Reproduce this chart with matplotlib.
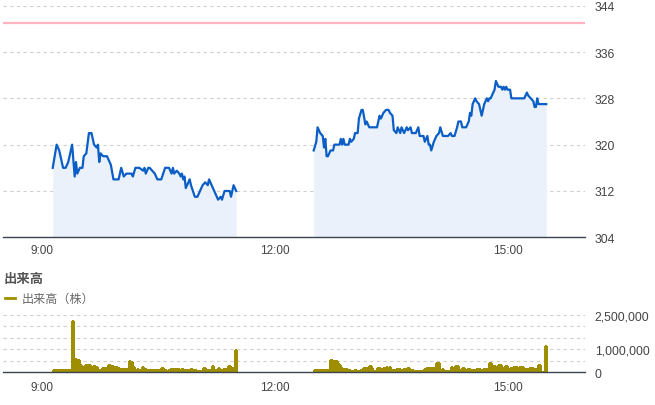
import matplotlib
matplotlib.use("Agg")
import matplotlib.pyplot as plt
from matplotlib.lines import Line2D

# ---------------- data ----------------
# minutes after 9:00
am_times = [8, 11, 13, 15, 16, 18, 20, 23, 25, 26, 27, 29, 31, 32, 34, 36, 37, 38, 40, 42,
            43, 44, 45, 47, 50, 52, 53, 55, 59, 61, 63, 65, 69, 70, 72, 75, 78, 79, 80, 82,
            83, 85, 87, 89, 92, 95, 98, 100, 101, 102, 104, 106, 107, 108, 109, 110, 111, 113, 114, 115,
            118, 120, 122, 124, 126, 128, 129, 131, 133, 134, 136, 138, 139, 141, 145, 146, 148, 150]
am_prices = [316, 320, 319, 317, 316, 316, 317, 320, 314.5, 317, 315, 316, 316, 318, 318.5, 322, 322, 322, 320, 319.5,
             320, 317, 318.5, 318, 318, 317, 316.5, 314, 314, 316, 314.5, 315, 315, 314.5, 316, 316, 315.5, 316, 315, 316,
             316, 315.5, 315, 314, 314, 316, 316, 315, 316, 315, 315.5, 315, 314.5, 315, 314, 314.5, 312.5, 313.5, 314, 313,
             311, 311, 312, 313, 313.5, 313, 314, 313, 312, 311.5, 310.5, 311, 310.5, 312, 312, 311, 313, 312]

pm_times = [210, 212, 213, 215, 217, 218, 219, 220, 221, 223, 225, 226, 230, 231, 232, 233, 234, 237, 238, 239,
            241, 242, 244, 245, 247, 248, 250, 251, 253, 255, 259, 261, 262, 264, 266, 268, 269, 271, 272, 274,
            275, 277, 278, 280, 282, 283, 285, 286, 289, 291, 292, 295, 296, 298, 299, 300, 301, 303, 305, 307,
            308, 310, 314, 316, 317, 319, 321, 322, 324, 325, 328, 330, 331, 332, 333, 335, 336, 338, 339, 340,
            342, 344, 345, 346, 347, 350, 351, 353, 354, 355, 356, 357, 358, 359, 360, 362, 363, 373, 375, 376,
            378, 380, 381, 382, 383, 384, 390]
pm_prices = [319, 320.5, 323, 322, 321.5, 319.5, 321, 318, 318, 319, 319, 320, 320, 321, 320, 321, 320, 320, 321, 320.5,
             321, 322, 322, 324.5, 326, 326, 323.5, 324, 323, 323, 323, 325, 324.5, 325.5, 326, 326, 325.5, 325, 322.5, 322,
             323, 322, 323, 322, 323, 322.5, 323, 322, 322, 323, 321.5, 321.5, 320.5, 321.5, 320, 320, 319, 320.5, 321.5, 322,
             323, 321.5, 321.5, 322, 321.5, 321.5, 323, 324, 324, 323, 323, 324, 325.5, 325, 327, 328, 327.5, 327, 326, 325,
             327, 328, 327.5, 328, 328, 329.5, 331, 330, 330, 330, 329.5, 330, 329.5, 330, 329.5, 329.5, 328, 328, 329, 328.5,
             328, 327.5, 326.5, 326.5, 328, 327, 327]

ref_price = 341

# volume (thousand shares), first bar is the opening block
am_open_start, am_open_end, am_open_vol = 8, 23, 116
am_vol = [2230, 580, 580, 550, 550, 380, 160, 260, 200, 130,
          330, 330, 330, 330, 190, 130, 260, 260, 230, 130,
          90, 90, 90, 170, 90, 200, 200, 230, 300, 230,
          260, 260, 160, 230, 230, 200, 130, 160, 130, 130,
          160, 120, 160, 160, 490, 460, 230, 230, 120, 90,
          130, 90, 90, 160, 230, 160, 160, 90, 120, 120,
          120, 100, 90, 120, 100, 90, 120, 100, 90, 200,
          90, 90, 90, 60, 90, 90, 130, 130, 130, 130,
          130, 130, 130, 100, 130, 130, 90, 90, 90, 60,
          90, 160, 160, 90, 90, 90, 60, 60, 60, 60,
          60, 170, 170, 90, 90, 90, 90, 90, 290, 90,
          90, 90, 60, 200, 90, 90, 90, 130, 130, 130,
          90, 290, 130, 90, 190, 90, 980]
pm_open_start, pm_open_end, pm_open_vol = 210, 223, 116
pm_vol = [550, 360, 360, 490, 490, 400, 320, 170, 170, 116,
          145, 145, 145, 116, 116, 72, 72, 72, 116, 116,
          72, 72, 72, 116, 116, 174, 174, 174, 72, 72,
          261, 180, 100, 72, 72, 72, 174, 174, 145, 145,
          145, 174, 174, 217, 150, 217, 101, 101, 101, 72,
          72, 145, 145, 145, 116, 116, 145, 145, 145, 188,
          188, 116, 116, 116, 58, 58, 58, 43, 43, 58,
          58, 58, 145, 145, 174, 174, 174, 174, 174, 174,
          116, 116, 406, 406, 116, 116, 145, 72, 72, 72,
          72, 72, 72, 217, 72, 72, 261, 150, 261, 116,
          116, 116, 174, 116, 116, 116, 145, 145, 116, 116,
          116, 116, 116, 145, 145, 145, 116, 116, 145, 145,
          145, 101, 101, 391, 300, 290, 290, 145, 145, 145,
          319, 319, 174, 174, 174, 261, 261, 116, 116, 174,
          174, 217, 217, 217, 174, 174, 217, 217, 217, 145,
          145, 145, 116, 116, 174, 174, 174, 145, 145, 120,
          200, 333, 0, 0, 0, 0, 1130]

x_ticks = [0, 180, 360]
x_labels = ["9:00", "12:00", "15:00"]
price_ticks = [304, 312, 320, 328, 336, 344]
vol_grid = [500000, 1000000, 1500000, 2000000, 2500000]
vol_ticks = [0, 1000000, 2500000]
vol_labels = ["0", "1,000,000", "2,500,000"]

# ---------------- style ----------------
W, H = 655, 406
LINE = "#0b5ec6"
FILL = "#eaf1fa"
OLIVE = "#9f8f00"
GRID = "#cfcfcf"
AXIS = "#3a4350"
TXT = "#444444"
NUM_FONT = ["Liberation Sans", "DejaVu Sans"]
CJK_FONT = ["Noto Sans CJK JP", "DejaVu Sans"]

fig = plt.figure(figsize=(W / 100, H / 100), dpi=100)

left = 3 / W
width = (585 - 3) / W
ax1 = fig.add_axes([left, 1 - 238.3 / H, width, (238.3 - 6.7) / H])
ax2 = fig.add_axes([left, 1 - 373.3 / H, width, (373.3 - 315.8) / H])

xlim = (-30.5, 420)

# ---- price panel ----
for t, p in ((am_times, am_prices), (pm_times, pm_prices)):
    ax1.fill_between(t, p, 304, color=FILL, lw=0, zorder=1)
    ax1.plot(t, p, color=LINE, lw=1.6, zorder=3, solid_joinstyle="round")
ax1.axhline(ref_price, color="#ffb3bf", lw=1.6, zorder=2)
ax1.set_xlim(*xlim)
ax1.set_ylim(304, 344)
ax1.set_yticks(price_ticks)
ax1.set_yticklabels([str(v) for v in price_ticks])
ax1.set_xticks(x_ticks)
ax1.set_xticklabels(x_labels)
ax1.yaxis.tick_right()
ax1.grid(axis="y", color=GRID, lw=0.8, linestyle=(0, (3, 3)))
ax1.set_axisbelow(True)
for s in ("top", "left", "right"):
    ax1.spines[s].set_visible(False)
ax1.spines["bottom"].set_color(AXIS)
ax1.spines["bottom"].set_linewidth(1.0)
ax1.spines["bottom"].set_zorder(4)
ax1.tick_params(axis="y", length=0, pad=7, labelsize=8.8, labelcolor=TXT)
ax1.tick_params(axis="x", length=0, pad=5, labelsize=8.5, labelcolor=TXT)
for lb in ax1.get_xticklabels() + ax1.get_yticklabels():
    lb.set_fontfamily(NUM_FONT)

# ---- volume panel ----
am_edges = [am_open_start] + list(range(am_open_end, am_open_end + len(am_vol) + 1))
am_vals = [am_open_vol * 1000] + [v * 1000 for v in am_vol]
pm_edges = [pm_open_start] + list(range(pm_open_end, pm_open_end + len(pm_vol) + 1))
pm_vals = [pm_open_vol * 1000] + [v * 1000 for v in pm_vol]
for vals, edges in ((am_vals, am_edges), (pm_vals, pm_edges)):
    ax2.stairs(vals, edges, fill=True, facecolor=OLIVE, edgecolor=OLIVE, lw=1.0,
               antialiased=False, zorder=3)
for g in vol_grid:
    ax2.axhline(g, color=GRID, lw=0.8, linestyle=(0, (3, 3)), zorder=1)
ax2.set_xlim(*xlim)
ax2.set_ylim(0, 2500000)
ax2.set_yticks(vol_ticks)
ax2.set_yticklabels(vol_labels)
ax2.set_xticks(x_ticks)
ax2.set_xticklabels(x_labels)
ax2.yaxis.tick_right()
for s in ("top", "left", "right"):
    ax2.spines[s].set_visible(False)
ax2.spines["bottom"].set_color(AXIS)
ax2.spines["bottom"].set_linewidth(1.0)
ax2.spines["bottom"].set_zorder(4)
ax2.tick_params(axis="y", length=0, pad=7, labelsize=8.8, labelcolor=TXT)
ax2.tick_params(axis="x", length=0, pad=6, labelsize=8.5, labelcolor=TXT)
for lb in ax2.get_xticklabels() + ax2.get_yticklabels():
    lb.set_fontfamily(NUM_FONT)

# ---- titles / legend ----
fig.text(3.5 / W, 1 - 279 / H, "出来高", family=CJK_FONT, fontweight="bold",
         fontsize=9.6, color="#555555", va="center", ha="left")
fig.lines.append(Line2D([4.5 / W, 15 / W], [1 - 299.3 / H] * 2, color=OLIVE, lw=2,
                        transform=fig.transFigure))
fig.text(21.5 / W, 1 - 299.3 / H, "出来高（株）", family=CJK_FONT,
         fontsize=8.7, color="#666666", va="center", ha="left")

fig.savefig("out.png", dpi=100)
